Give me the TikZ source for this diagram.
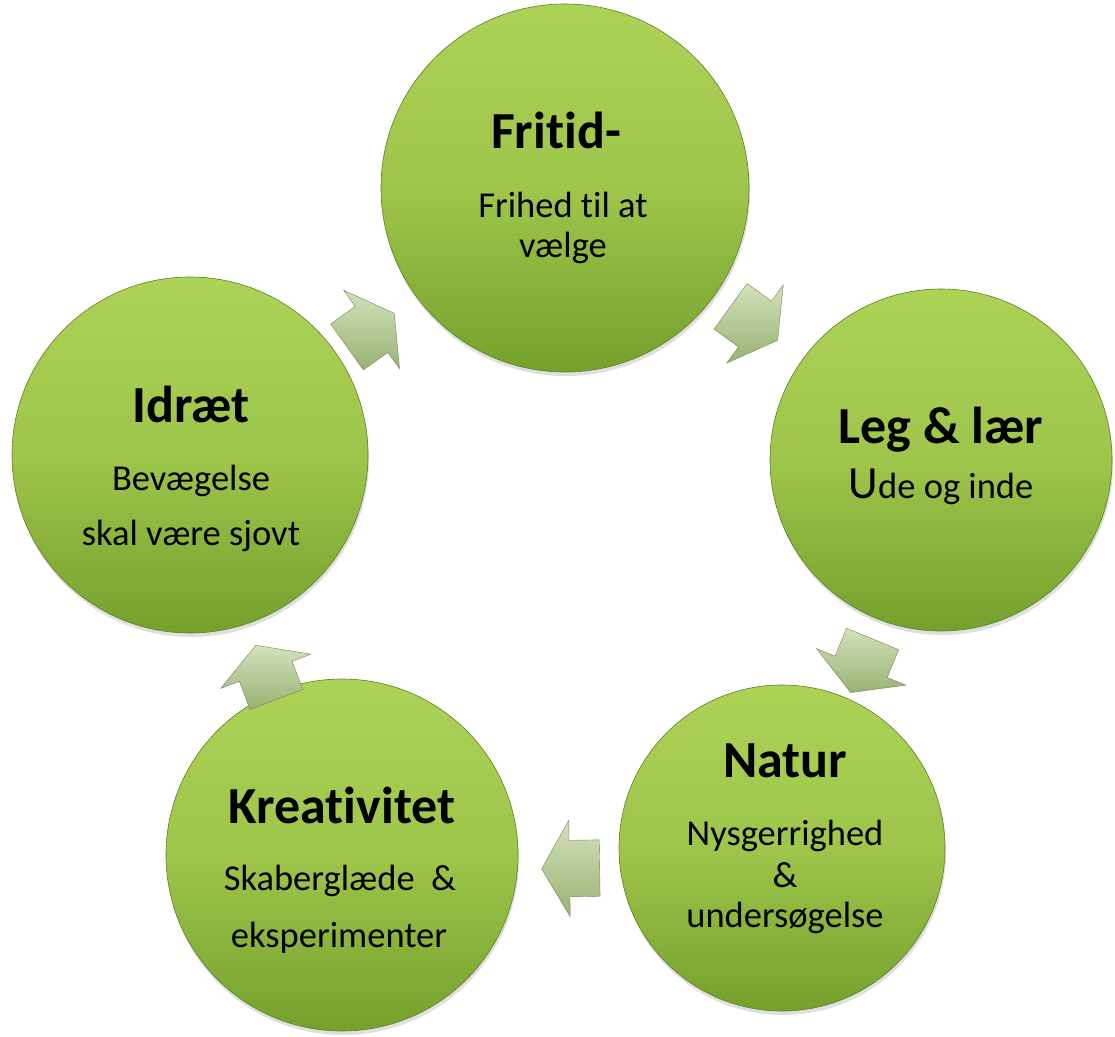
\documentclass[tikz,border=0pt]{standalone}
\usepackage{fontspec}
\setmainfont{Carlito}[Ligatures=NoCommon]
\usetikzlibrary{shapes.arrows,shadows,calc}
\definecolor{circtop}{RGB}{172,210,86}
\definecolor{circbot}{RGB}{116,160,44}
\definecolor{arrlight}{RGB}{212,225,188}
\definecolor{arrdark}{RGB}{152,178,114}

\begin{document}
\begin{tikzpicture}[
    x=1bp, y=-1bp,
    circ/.style={circle,inner sep=0pt,top color=circtop,bottom color=circbot,
      middle color=circtop!75!circbot,draw=circbot!80!black,line width=0.6bp,
      drop shadow={opacity=0.25,shadow xshift=1bp,shadow yshift=-4bp}},
    cyc/.style={single arrow,inner xsep=0pt,inner ysep=28bp,minimum height=58bp,
      single arrow head extend=20bp,single arrow tip angle=120,
      top color=arrlight,bottom color=arrdark,draw=arrdark!75!black,line width=0.4bp,
      pos=0.48,sloped,allow upside down},
    ttl/.style={anchor=base,font=\fontsize{52bp}{60bp}\selectfont\bfseries},
    txt/.style={anchor=base,font=\fontsize{36.5bp}{42bp}\selectfont}
    ]
    \useasboundingbox (0,0) rectangle (1115,1037);
    \node[circ,minimum size=368bp] (frit) at (565,188) {};
    \node[circ,minimum size=342bp] (leg) at (941,460) {};
    \node[circ,minimum size=326bp] (nat) at (782,848) {};
    \node[circ,minimum size=352bp] (kre) at (342,855) {};
    \node[circ,minimum size=356bp] (idr) at (190,455) {};
    \path ($(idr)+(-6,8)$) -- ($(frit)+(-6,8)$) node[cyc] (a1) {};
    \path ($(frit)+(2,0)$) -- ($(leg)+(2,0)$) node[cyc] (a2) {};
    \path ($(leg)+(0,12)$) -- ($(nat)+(0,12)$) node[cyc] (a3) {};
    \path ($(nat)+(8,17)$) -- ($(kre)+(8,17)$) node[cyc] (a4) {};
    \path ($(kre)+(0,17)$) -- ($(idr)+(0,17)$) node[cyc] (a5) {};
    \node[ttl] (fritT) at (556,148) {Fritid-};
    \node[txt] (fritA) at (563,217) {Frihed til at};
    \node[txt] (fritB) at (563,257) {vælge};
    \node[ttl] (legT) at (941,443) {Leg \& lær};
    \node[txt] (legA) at (941,498) {{\fontsize{46bp}{52bp}\selectfont U}de og inde};
    \node[ttl] (natT) at (785,777) {Natur};
    \node[txt] (natA) at (785,845) {Nysgerrighed};
    \node[txt] (natB) at (785,887) {\&};
    \node[txt] (natC) at (785,927) {undersøgelse};
    \node[ttl] (kreT) at (342,823) {Kreativitet};
    \node[txt] (kreA) at (340,890) {Skaberglæde\ \ \&};
    \node[txt] (kreB) at (339,947) {eksperimenter};
    \node[ttl] (idrT) at (191,422) {Idræt};
    \node[txt] (idrA) at (191,490) {Bevægelse};
    \node[txt] (idrB) at (191,545) {skal være sjovt};
  \end{tikzpicture}
\end{document}
